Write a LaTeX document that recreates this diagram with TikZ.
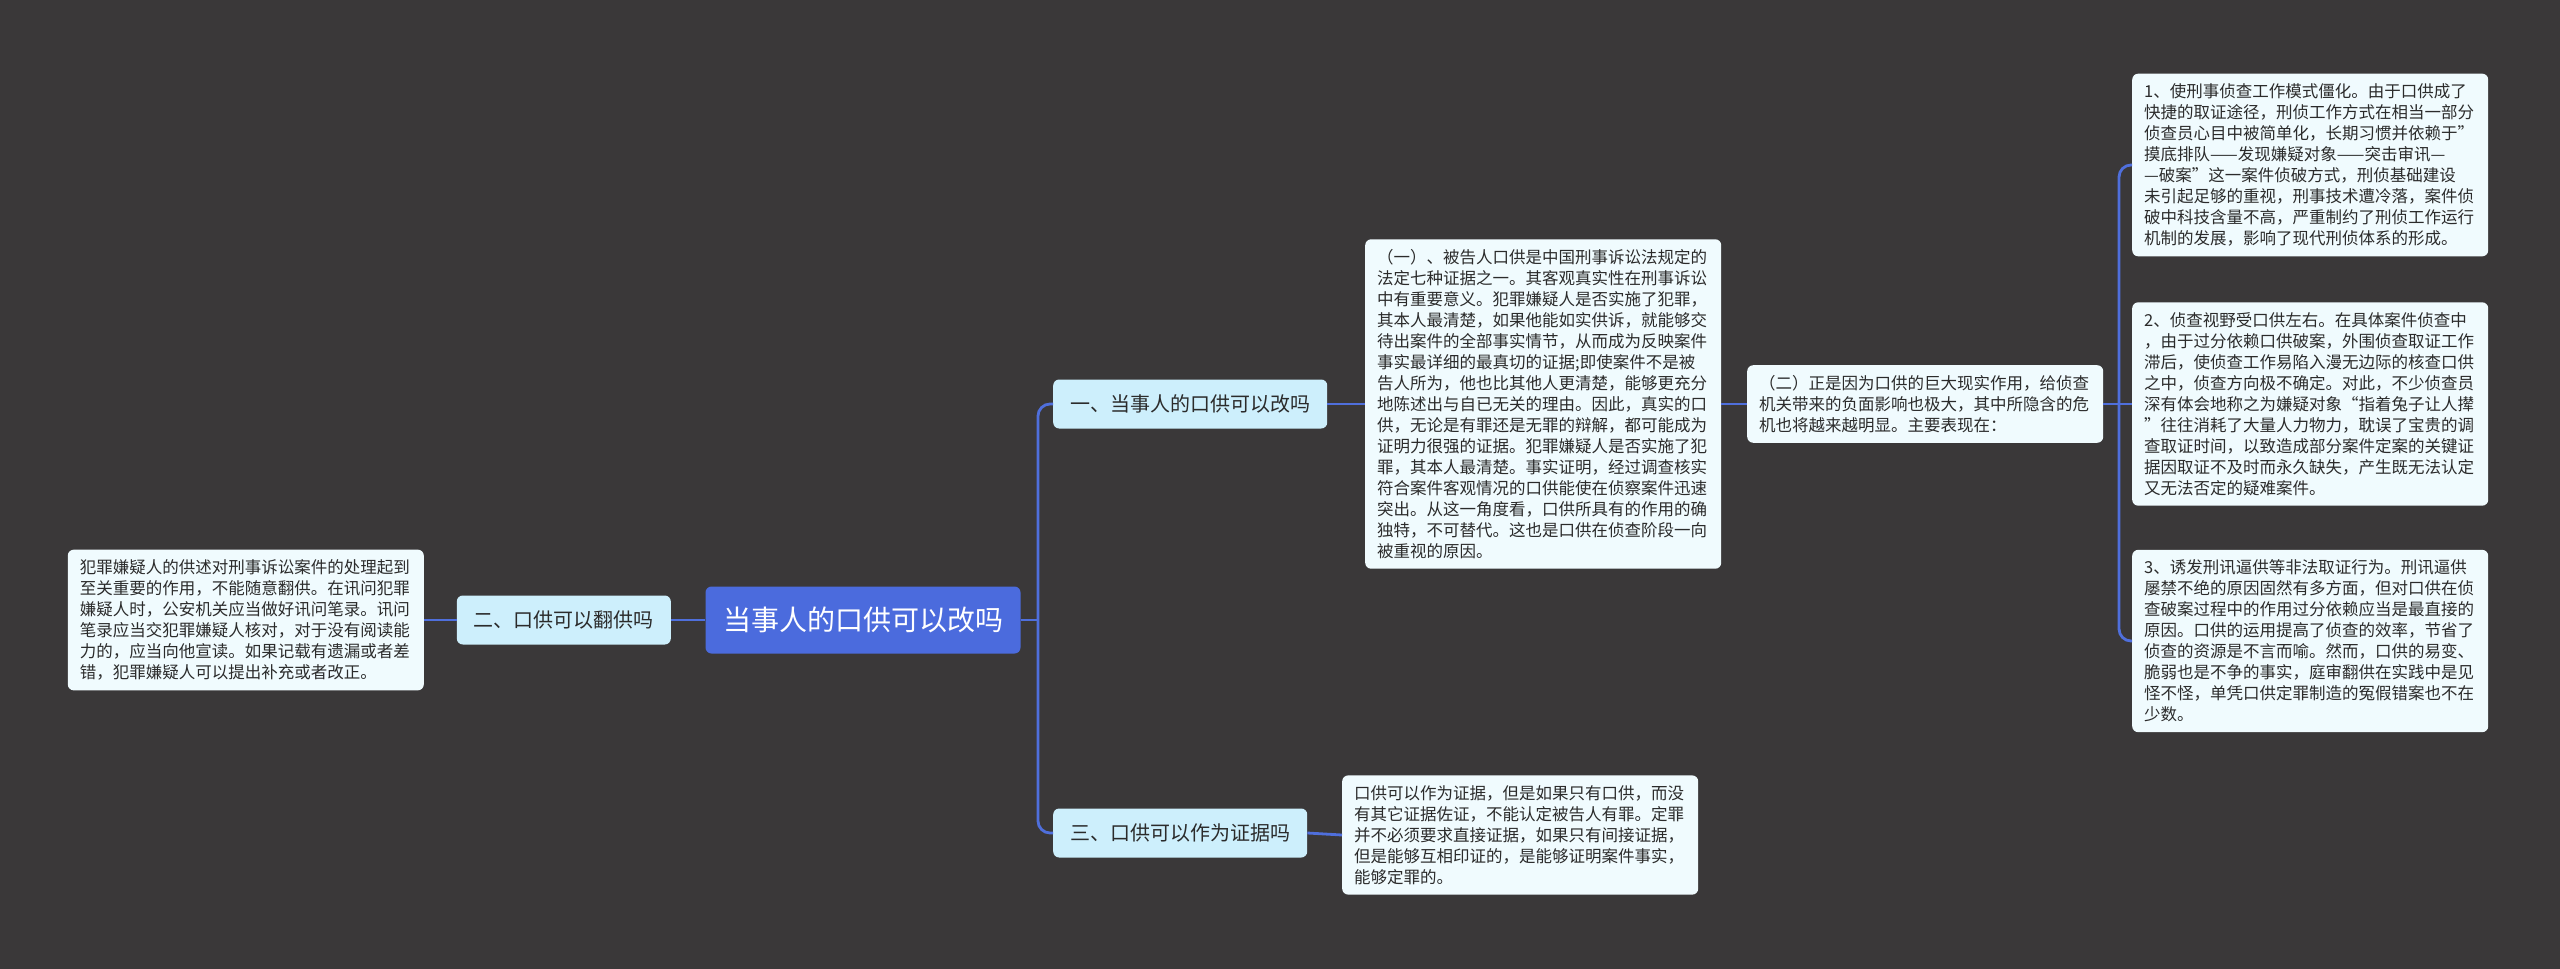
\documentclass[tikz,border=0pt]{standalone}
\usepackage{fontspec}
\newfontfamily\cjk{Noto Sans CJK SC}
\definecolor{bg}{HTML}{3A3839}
\definecolor{linec}{HTML}{4F6FDC}
\definecolor{rootc}{HTML}{4B6BDD}
\definecolor{branchc}{HTML}{CDEFFC}
\definecolor{leafc}{HTML}{F0FBFE}
\definecolor{txt}{HTML}{2B2B2B}
\tikzset{
  rootbox/.style={fill=rootc, rounded corners=6pt, text=white, inner xsep=0pt, inner ysep=0pt,
    minimum width=315pt, minimum height=67pt, font=\cjk\fontsize{28}{32}\selectfont},
  branchbox/.style={fill=branchc, rounded corners=6pt, text=txt, inner xsep=17pt, inner ysep=0pt,
    minimum height=49pt, font=\cjk\fontsize{20}{24}\selectfont},
  leafbox/.style={fill=leafc, rounded corners=6pt, text=txt, inner xsep=12pt, inner ysep=10pt,
    text width=332pt, align=left, font=\cjk\fontsize{16.5}{21}\selectfont},
  conn/.style={draw=linec, line width=2.8pt, rounded corners=12pt}
}
\begin{document}
\begin{tikzpicture}[x=1pt,y=-1pt]
\fill[bg] (0,0) rectangle (2560,969);
\useasboundingbox (0,0) rectangle (2560,969);

\node[rootbox] (C) at (863,620) {当事人的口供可以改吗};
\node[branchbox, anchor=east] (B2) at (671,620) {二、口供可以翻供吗};
\node[leafbox, anchor=east] (L) at (424,620) {犯罪嫌疑人的供述对刑事诉讼案件的处理起到\\至关重要的作用，不能随意翻供。在讯问犯罪\\嫌疑人时，公安机关应当做好讯问笔录。讯问\\笔录应当交犯罪嫌疑人核对，对于没有阅读能\\力的，应当向他宣读。如果记载有遗漏或者差\\错，犯罪嫌疑人可以提出补充或者改正。};

\node[branchbox, anchor=west] (B1) at (1053,404) {一、当事人的口供可以改吗};
\node[branchbox, anchor=west] (B3) at (1053,833) {三、口供可以作为证据吗};

\node[leafbox, anchor=west] (T1) at (1365,404) {（一）、被告人口供是中国刑事诉讼法规定的\\法定七种证据之一。其客观真实性在刑事诉讼\\中有重要意义。犯罪嫌疑人是否实施了犯罪，\\其本人最清楚，如果他能如实供诉，就能够交\\待出案件的全部事实情节，从而成为反映案件\\事实最详细的最真切的证据;即使案件不是被\\告人所为，他也比其他人更清楚，能够更充分\\地陈述出与自已无关的理由。因此，真实的口\\供，无论是有罪还是无罪的辩解，都可能成为\\证明力很强的证据。犯罪嫌疑人是否实施了犯\\罪，其本人最清楚。事实证明，经过调查核实\\符合案件客观情况的口供能使在侦察案件迅速\\突出。从这一角度看，口供所具有的作用的确\\独特，不可替代。这也是口供在侦查阶段一向\\被重视的原因。};

\node[leafbox, anchor=west] (T2) at (1747,404) {（二）正是因为口供的巨大现实作用，给侦查\\机关带来的负面影响也极大，其中所隐含的危\\机也将越来越明显。主要表现在：};

\node[leafbox, anchor=west] (R1) at (2132,165) {1、使刑事侦查工作模式僵化。由于口供成了\\快捷的取证途径，刑侦工作方式在相当一部分\\侦查员心目中被简单化，长期习惯并依赖于”\\摸底排队——发现嫌疑对象——突击审讯—\\—破案”这一案件侦破方式，刑侦基础建设\\未引起足够的重视，刑事技术遭冷落，案件侦\\破中科技含量不高，严重制约了刑侦工作运行\\机制的发展，影响了现代刑侦体系的形成。};

\node[leafbox, anchor=west] (R2) at (2132,404) {2、侦查视野受口供左右。在具体案件侦查中\\，由于过分依赖口供破案，外围侦查取证工作\\滞后，使侦查工作易陷入漫无边际的核查口供\\之中，侦查方向极不确定。对此，不少侦查员\\深有体会地称之为嫌疑对象“指着兔子让人撵\\”往往消耗了大量人力物力，耽误了宝贵的调\\查取证时间，以致造成部分案件定案的关键证\\据因取证不及时而永久缺失，产生既无法认定\\又无法否定的疑难案件。};

\node[leafbox, anchor=west] (R3) at (2132,641) {3、诱发刑讯逼供等非法取证行为。刑讯逼供\\屡禁不绝的原因固然有多方面，但对口供在侦\\查破案过程中的作用过分依赖应当是最直接的\\原因。口供的运用提高了侦查的效率，节省了\\侦查的资源是不言而喻。然而，口供的易变、\\脆弱也是不争的事实，庭审翻供在实践中是见\\怪不怪，单凭口供定罪制造的冤假错案也不在\\少数。};

\node[leafbox, anchor=west] (T3) at (1342,835) {口供可以作为证据，但是如果只有口供，而没\\有其它证据佐证，不能认定被告人有罪。定罪\\并不必须要求直接证据，如果只有间接证据，\\但是能够互相印证的，是能够证明案件事实，\\能够定罪的。};

\coordinate (j1) at (1038,620);
\coordinate (j2) at (2119,404);

\draw[conn] (C.west) -- (B2.east);
\draw[conn] (B2.west) -- (L.east);
\draw[conn] (C.east) -- (j1);
\draw[conn] (B1.west) -| (j1) |- (B3.west);
\draw[conn] (B1.east) -- (T1.west);
\draw[conn] (T1.east) -- (T2.west);
\draw[conn] (T2.east) -- (R2.west);
\draw[conn] (R1.west) -| (j2) |- (R3.west);
\draw[conn] (B3.east) -- (T3.west);
\end{tikzpicture}
\end{document}
